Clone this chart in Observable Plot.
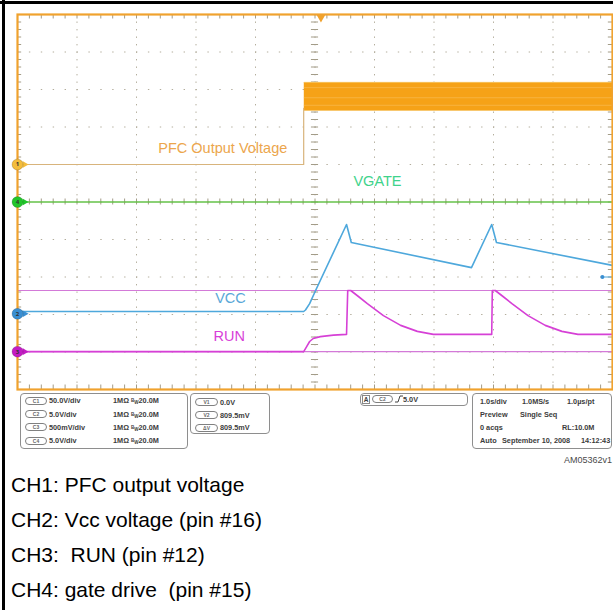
<!DOCTYPE html>
<html><head><meta charset="utf-8">
<script src="https://cdn.jsdelivr.net/npm/d3@7"></script>
<script src="https://cdn.jsdelivr.net/npm/@observablehq/plot@0.6"></script>
<style>
html,body{margin:0;padding:0;background:#fff;}
#wrap{position:relative;width:613px;height:610px;overflow:hidden;font-family:"Liberation Sans",Arial,sans-serif;background:#fff;}
#wrap > svg{display:block;}
.bk{position:absolute;background:#000;}
.box{position:absolute;border:1.2px solid #8e8e8e;border-radius:4px;box-sizing:border-box;}
.t{position:absolute;font-size:7.3px;font-weight:bold;color:#3c3c3c;white-space:nowrap;line-height:9px;}
.t svg{display:inline;}
.pill{position:absolute;border:1px solid #808080;border-radius:5px;height:8px;box-sizing:border-box;font-size:5px;line-height:6px;text-align:center;color:#666;font-weight:bold;}
</style></head>
<body><div id="wrap"></div>
<script>
// ---- data (time in s, 1 s/div; level in screen divisions) ----
const gridDivs = [-4, -3, -2, -1, 0, 1, 2, 3, 4];
const pfcTime = [-5, -0.19, -0.19];
const pfcLevel = [1.0, 1.0, 2.5];
const pfcBandTime = [-0.18, 5];
const pfcBandLow = [2.44, 2.44];
const pfcBandHigh = [3.19, 3.19];
const pfcStripeLevels = [3.05, 2.78, 2.58];
const gateTime = [-5, 5];
const gateLevel = [0, 0];
const vccTime = [-5, -0.19, -0.16, -0.09, 0.01, 0.53, 0.61, 2.63, 2.97, 3.05, 5.0];
const vccLevel = [-2.92, -2.92, -2.88, -2.71, -2.36, -0.60, -1.08, -1.75, -0.60, -1.08, -1.69];
const runTime = [-5, -0.19, -0.16, -0.09, -0.03, 0.09, 0.31, 0.53, 0.55, 0.60, 0.73, 0.88, 1.15, 1.44, 1.72, 1.99, 2.97, 2.98, 3.03, 3.16, 3.31, 3.58, 3.87, 4.15, 4.42, 5.0];
const runLevel = [-3.99, -3.99, -3.91, -3.72, -3.64, -3.59, -3.55, -3.53, -2.36, -2.36, -2.52, -2.71, -3.03, -3.29, -3.45, -3.53, -3.53, -2.36, -2.36, -2.52, -2.71, -3.03, -3.29, -3.45, -3.53, -3.53];
const cursorLevels = [-2.36, -3.99];
const triggerTime = [0.1];
const trigLevelMark = [{t: 4.83, v: -2.0}, {t: 5, v: -2.0}];
const labelText = ["PFC Output Voltage", "VGATE", "VCC", "RUN"];
const labelTime = [-1.55, 1.05, -1.42, -1.44];
const labelLevel = [1.43, 0.55, -2.57, -3.59];
const labelColor = ["#eca64c", "#3fd38b", "#5aa8d8", "#d83ed8"];
const markerChan = ["1", "4", "2", "3"];
const markerLevel = [1.0, 0, -2.98, -3.99];
const markerColor = ["#f4bd3c", "#22c52a", "#3a8fd2", "#c41cc4"];
const chanSettings = [["C1", "50.0V/div"], ["C2", "5.0V/div"], ["C3", "500mV/div"], ["C4", "5.0V/div"]];
const cursorSettings = [["V1", "0.0V"], ["V2", "809.5mV"], ["\u0394V", "809.5mV"]];
const captionLines = ["CH1: PFC output voltage", "CH2: Vcc voltage (pin #16)", "CH3:\u00a0 RUN (pin #12)", "CH4: gate drive\u00a0 (pin #15)"];

const zip = (t, v) => t.map((x, i) => ({t: x, v: v[i]}));
const pfc = zip(pfcTime, pfcLevel);
const band = pfcBandTime.map((x, i) => ({t: x, lo: pfcBandLow[i], hi: pfcBandHigh[i]}));
const stripes = pfcStripeLevels.flatMap((v, k) => pfcBandTime.map(t => ({t, v, k})));
const gate = zip(gateTime, gateLevel);
const vcc = zip(vccTime, vccLevel);
const run = zip(runTime, runLevel);
const labels = labelText.map((s, i) => ({s, t: labelTime[i], v: labelLevel[i], c: labelColor[i]}));
const markers = markerChan.map((ch, i) => ({ch, v: markerLevel[i], c: markerColor[i]}));
const minor = d3.range(-5, 5.0001, 0.2);

const tickCol = "#a39c88";
const chart = Plot.plot({
  width: 613, height: 392,
  marginLeft: 17, marginRight: 1, marginTop: 14, marginBottom: 3,
  x: {domain: [-5, 5], axis: null},
  y: {domain: [-5, 5], axis: null},
  style: {background: "transparent", overflow: "visible"},
  marks: [
    Plot.ruleX(gridDivs, {stroke: "#b3ad9c", strokeDasharray: "1.4,6.1", strokeWidth: 1}),
    Plot.ruleY(gridDivs, {stroke: "#b3ad9c", strokeDasharray: "1.4,10.5", strokeWidth: 1}),
    Plot.ruleX(minor, {y1: 5, y2: 4.88, stroke: tickCol}),
    Plot.ruleX(minor, {y1: -5, y2: -4.88, stroke: tickCol}),
    Plot.ruleY(minor, {x1: -5, x2: -4.93, stroke: tickCol}),
    Plot.ruleY(minor, {x1: 5, x2: 4.93, stroke: tickCol}),
    Plot.ruleX(minor, {y1: -0.08, y2: 0.08, stroke: tickCol}),
    Plot.ruleY(minor, {x1: -0.06, x2: 0.06, stroke: tickCol}),
    Plot.ruleY(cursorLevels, {stroke: "#d37ad8", strokeWidth: 1.1}),
    Plot.areaY(band, {x: "t", y1: "lo", y2: "hi", fill: "#f6a217"}),
    Plot.line(stripes, {x: "t", y: "v", z: "k", stroke: "#f9b84a", strokeWidth: 1, strokeOpacity: 0.8}),
    Plot.line(band, {x: "t", y: "hi", stroke: "#f8c25e", strokeWidth: 1}),
    Plot.line(band, {x: "t", y: "lo", stroke: "#f8c870", strokeWidth: 1}),
    Plot.line(pfc, {x: "t", y: "v", stroke: "#d8b47c", strokeWidth: 1.2}),
    Plot.line(gate, {x: "t", y: "v", stroke: "#66c24a", strokeWidth: 1.5}),
    Plot.line(vcc, {x: "t", y: "v", stroke: "#4ea8dc", strokeWidth: 1.6}),
    Plot.line(run, {x: "t", y: "v", stroke: "#d640d6", strokeWidth: 1.6}),
    Plot.line(trigLevelMark, {x: "t", y: "v", stroke: "#4ea8dc", strokeWidth: 1}),
    Plot.dot(trigLevelMark.slice(0, 1), {x: "t", y: "v", r: 2, fill: "#3a8fd2"}),
    Plot.frame({stroke: "#f0a22e", strokeWidth: 2.2}),
    Plot.dot(triggerTime, {x: d => d, y: 5, symbol: "triangle", rotate: 180, r: 3.2, dy: 3, fill: "#f0a22e"}),
    Plot.text(labels, {x: "t", y: "v", text: "s", fill: "c", fontSize: 14.5, fontFamily: "Liberation Sans, Arial, sans-serif"}),
    Plot.dot(markers, {x: -5, y: "v", symbol: "triangle", rotate: 90, r: 2.6, dx: 7, fill: "c"}),
    Plot.dot(markers, {x: -5, y: "v", r: 5.5, fill: "c", stroke: "#00000033", strokeWidth: 0.8}),
    Plot.text(markers, {x: -5, y: "v", text: "ch", fontSize: 6, fill: "#333", fontWeight: "bold"})
  ]
});

const wrap = document.getElementById("wrap");
chart.style.position = "absolute";
chart.style.left = "0px";
chart.style.top = "0px";
wrap.appendChild(chart);

function el(cls, css, html) {
  const d = document.createElement("div");
  d.className = cls;
  Object.assign(d.style, css);
  if (html !== undefined) d.innerHTML = html;
  wrap.appendChild(d);
  return d;
}
const px = v => v + "px";
// outer black frame
el("bk", {left: "1.5px", top: "0px", width: "3.5px", height: "610px"});
el("bk", {left: "0px", top: "1px", width: "613px", height: "3px"});

// settings panel
el("box", {left: px(20), top: px(393), width: px(168), height: px(56)});
const rowsA = [400.5, 414, 427, 440.5];
chanSettings.forEach(([c, s], i) => {
  const cy = rowsA[i];
  el("pill", {left: px(25), top: px(cy - 4), width: px(22)}, c);
  el("t", {left: px(49), top: px(cy - 4.5)}, s);
  el("t", {left: px(113), top: px(cy - 4.5)}, '1M\u03a9 <span style="font-size:4.5px;vertical-align:1px">B</span><span style="font-size:4.5px;vertical-align:-1px">W</span>20.0M');
});
el("box", {left: px(190), top: px(393), width: px(80), height: px(41)});
const rowsB = [402, 415, 427.5];
cursorSettings.forEach(([c, s], i) => {
  const cy = rowsB[i];
  el("pill", {left: px(195), top: px(cy - 4), width: px(23)}, c);
  el("t", {left: px(220), top: px(cy - 4.5)}, s);
});
el("box", {left: px(360), top: px(393), width: px(108), height: px(12.5)});
el("t", {left: px(362), top: px(394.5), border: "1px solid #888", width: "6px", height: "7px", lineHeight: "7px", fontSize: "6.5px", textAlign: "center"}, "A");
el("pill", {left: px(372), top: px(395), width: px(21)}, "C2");
el("t", {left: px(395), top: px(394.7)}, '<svg width="8" height="8" style="vertical-align:-1px"><polyline points="0,7 3,7 5,1 8,1" fill="none" stroke="#444" stroke-width="1"/></svg>5.0V');
el("box", {left: px(472), top: px(393), width: px(140), height: px(56)});
const rowsD = [401, 414, 427, 440.5];
[[["1.0s/div", 480], ["1.0MS/s", 522], ["1.0\u00b5s/pt", 567]],
 [["Preview", 480], ["Single Seq", 520]],
 [["0 acqs", 480], ["RL:10.0M", 562]],
 [["Auto", 480], ["September 10, 2008", 502], ["14:12:43", 581]]].forEach((row, i) => {
  row.forEach(([s, x]) => el("t", {left: px(x), top: px(rowsD[i] - 4.5)}, s));
});
el("t", {left: "auto", right: px(1), top: px(456), fontSize: "9px", fontWeight: "normal", color: "#4a4a4a"}, "AM05362v1");

// captions
const cap = d3.create("svg").attr("width", 613).attr("height", 150)
  .style("position", "absolute").style("left", "0px").style("top", "460px");
cap.append("g").attr("transform", "translate(11,0) scale(1.05,1)")
  .selectAll("text").data(captionLines).join("text")
  .attr("x", 0).attr("y", (d, i) => 32 + i * 35)
  .attr("font-family", "Liberation Sans, Arial, sans-serif")
  .attr("font-size", 20).attr("fill", "#000")
  .style("white-space", "pre")
  .text(d => d);
wrap.appendChild(cap.node());
</script>
</body></html>
